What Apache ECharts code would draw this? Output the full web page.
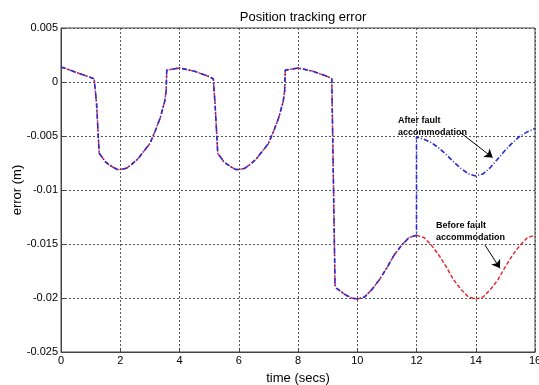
<!DOCTYPE html>
<html>
<head>
<meta charset="utf-8">
<script src="https://cdn.jsdelivr.net/npm/echarts@6/dist/echarts.min.js"></script>
<style>
  html, body { margin: 0; padding: 0; background: #fff; }
  #chart { width: 539px; height: 385px; }
</style>
</head>
<body>
<div id="chart"></div>
<script>
// shared part of the response (both runs identical up to t = 12 s)
var tCommon = [0, 0.5, 1.12, 1.2, 1.29, 1.37, 1.5, 1.6, 1.76, 1.9, 2.0, 2.2, 2.4, 2.6, 2.8, 3.0, 3.2, 3.35, 3.5, 3.55, 3.57,
  3.8, 4.0, 4.5, 5.0, 5.14, 5.2, 5.29, 5.37, 5.5, 5.6, 5.76, 5.9, 6.0, 6.2, 6.4, 6.6, 6.8, 7.0, 7.2, 7.35, 7.5, 7.55, 7.57,
  7.8, 8.0, 8.5, 9.0, 9.14, 9.2, 9.25, 9.3, 9.4, 9.6, 9.8, 10.0, 10.25, 10.5, 10.75, 11.0, 11.25, 11.5, 11.75, 12.0];
var eCommon = [0.0014, 0.0009, 0.0003, -0.0020, -0.0066, -0.0069, -0.0074, -0.0076, -0.0079, -0.0081, -0.0081, -0.0080, -0.0076, -0.0071, -0.0064, -0.0057, -0.0044, -0.0033, -0.0018, -0.0008, 0.0011,
  0.0012, 0.0013, 0.0010, 0.0005, 0.0003, -0.0020, -0.0066, -0.0069, -0.0074, -0.0076, -0.0079, -0.0081, -0.0081, -0.0080, -0.0076, -0.0071, -0.0064, -0.0057, -0.0044, -0.0033, -0.0018, -0.0008, 0.0011,
  0.0012, 0.0013, 0.0010, 0.0005, 0.0003, -0.0100, -0.0188, -0.0191, -0.0193, -0.0197, -0.0200, -0.0201, -0.0199, -0.0192, -0.0183, -0.0172, -0.0160, -0.0151, -0.0144, -0.0142];

// after t = 12 s
var tBefore = [12.25, 12.5, 12.75, 13.0, 13.25, 13.5, 13.75, 14.0, 14.25, 14.5, 14.75, 15.0, 15.25, 15.5, 15.75, 16.0];
var eBefore = [-0.0144, -0.0151, -0.0160, -0.0171, -0.0183, -0.0192, -0.0199, -0.0201, -0.0199, -0.0192, -0.0183, -0.0171, -0.0160, -0.0151, -0.0144, -0.0142];
var tAfter = [12.0, 12.25, 12.5, 12.75, 13.0, 13.25, 13.5, 13.75, 14.0, 14.25, 14.5, 14.75, 15.0, 15.25, 15.5, 15.75, 16.0];
var eAfter = [-0.0051, -0.0053, -0.0056, -0.0061, -0.0067, -0.0074, -0.0080, -0.0085, -0.0087, -0.0085, -0.0079, -0.0071, -0.0063, -0.0056, -0.0050, -0.0046, -0.0043];

var xTicks = [0, 2, 4, 6, 8, 10, 12, 14, 16];
var yTicks = [0.005, 0, -0.005, -0.01, -0.015, -0.02, -0.025];

function pairs(ts, es) {
  var res = [];
  for (var i = 0; i < ts.length; i++) res.push([ts[i], es[i]]);
  return res;
}

var beforeData = pairs(tCommon, eCommon).concat(pairs(tBefore, eBefore));
var afterData = pairs(tCommon, eCommon).concat(pairs(tAfter, eAfter));

var font = 'Liberation Sans, Arial, sans-serif';
var chart = echarts.init(document.getElementById('chart'));

var option = {
  animation: false,
  backgroundColor: '#fff',
  title: {
    text: 'Position tracking error',
    left: 298,
    textAlign: 'center',
    top: 6,
    textStyle: { fontFamily: font, fontSize: 13, fontWeight: 'normal', color: '#000' }
  },
  grid: {
    left: 61, right: 4, top: 28, bottom: 33,
    outerBoundsMode: 'none',
    containLabel: false,
    show: true, borderColor: '#444', borderWidth: 1, backgroundColor: '#fff'
  },
  xAxis: {
    type: 'value',
    min: xTicks[0], max: xTicks[xTicks.length - 1], interval: 2,
    name: 'time (secs)',
    nameLocation: 'middle',
    nameGap: 20,
    nameMoveOverlap: false,
    nameTextStyle: { fontFamily: font, fontSize: 13, color: '#000' },
    axisLine: { onZero: false, lineStyle: { color: '#444' } },
    axisTick: { inside: true, length: 4, lineStyle: { color: '#444' } },
    axisLabel: { fontFamily: font, fontSize: 11, color: '#000', margin: 3 },
    splitLine: { show: true, lineStyle: { color: '#555', type: [2, 2], width: 1 } }
  },
  yAxis: {
    type: 'value',
    min: yTicks[yTicks.length - 1], max: yTicks[0], interval: 0.005,
    name: 'error (m)',
    nameLocation: 'middle',
    nameGap: 37,
    nameMoveOverlap: false,
    nameTextStyle: { fontFamily: font, fontSize: 13, color: '#000' },
    axisLine: { show: true, onZero: false, lineStyle: { color: '#444' } },
    axisTick: { show: true, inside: true, length: 4, lineStyle: { color: '#444' } },
    axisLabel: {
      fontFamily: font, fontSize: 11, color: '#000', margin: 3,
      formatter: function (v) { return String(parseFloat(v.toFixed(3))); }
    },
    splitLine: { show: true, lineStyle: { color: '#555', type: [2, 2], width: 1 } }
  },
  series: [
    {
      name: 'Before fault accommodation',
      type: 'line',
      data: beforeData,
      showSymbol: false,
      lineStyle: { color: '#e0202a', width: 1.4, type: [4, 2] },
      markLine: {
        silent: true,
        symbol: ['none', 'arrow'],
        symbolSize: 8,
        label: { show: false },
        lineStyle: { color: '#000', type: 'solid', width: 1 },
        data: [[{ coord: [14.31, -0.0151] }, { coord: [14.82, -0.01725] }]]
      },
      z: 2
    },
    {
      name: 'After fault accommodation',
      type: 'line',
      data: afterData,
      showSymbol: false,
      lineStyle: { color: '#2a2ad4', width: 1.6, type: [5, 2, 1, 2] },
      markLine: {
        silent: true,
        symbol: ['none', 'arrow'],
        symbolSize: 8,
        label: { show: false },
        lineStyle: { color: '#000', type: 'solid', width: 1 },
        data: [[{ coord: [13.49, -0.0047] }, { coord: [14.57, -0.0070] }]]
      },
      z: 3
    }
  ],
  graphic: [
    {
      type: 'text', left: 398, top: 115,
      style: { text: 'After fault\naccommodation', font: 'bold 9px ' + font, fill: '#000', lineHeight: 12 }
    },
    {
      type: 'text', left: 436, top: 220,
      style: { text: 'Before fault\naccommodation', font: 'bold 9px ' + font, fill: '#000', lineHeight: 12 }
    }
  ]
};

chart.setOption(option);
</script>
</body>
</html>
